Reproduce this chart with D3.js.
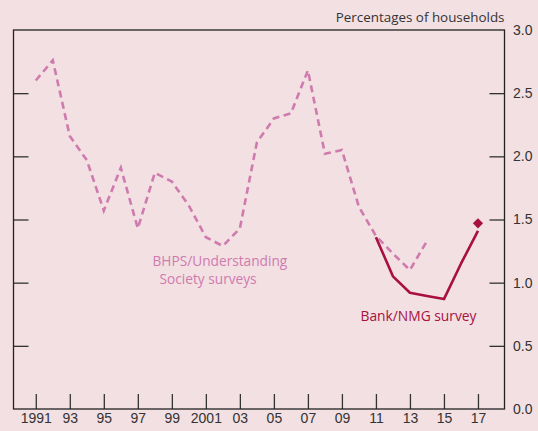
<!DOCTYPE html>
<meta charset="utf-8">
<style>
body { margin: 0; background: #f2e0e3; }
svg { display: block; font-family: "Open Sans", sans-serif; }
.frame { fill: none; stroke: #222; stroke-width: 1.3px; }
.tick line { stroke: #333; stroke-width: 1.3px; }
.tick text { fill: #333; font-size: 14px; }
.domain { display: none; }
.bhps { fill: none; stroke: #cf7bae; stroke-width: 2.6px; stroke-dasharray: 7,4.5; }
.nmg { fill: none; stroke: #a8103f; stroke-width: 2.6px; stroke-linejoin: round; }
</style>
<body>
<script src="https://d3js.org/d3.v7.min.js"></script>
<script>

// BHPS/Understanding Society (dashed)
var bhpsYears = [1991, 1992, 1993, 1994, 1995, 1996, 1997, 1998, 1999, 2000, 2001, 2002,
                 2003, 2004, 2005, 2006, 2007, 2008, 2009, 2010, 2011, 2012, 2013, 2014];
var bhpsValues = [2.60, 2.76, 2.16, 1.97, 1.57, 1.91, 1.43, 1.87, 1.80, 1.61, 1.36, 1.29,
                  1.43, 2.11, 2.30, 2.34, 2.68, 2.02, 2.05, 1.60, 1.37, 1.23, 1.10, 1.33];

// Bank/NMG survey (solid)
var nmgYears = [2011, 2012, 2013, 2014, 2015, 2016, 2017];
var nmgValues = [1.36, 1.05, 0.92, 0.895, 0.87, 1.15, 1.41];

// latest point (diamond)
var latestYear = [2017];
var latestValue = [1.47];

var xTickYears = d3.range(1991, 2018, 2);
var xTickLabels = ["1991", "93", "95", "97", "99", "2001", "03", "05", "07", "09", "11", "13", "15", "17"];
var yTickValues = [0, 0.5, 1.0, 1.5, 2.0, 2.5, 3.0];

var margin = {top: 30, right: 33.5, bottom: 22, left: 13.5},
    width = 538 - margin.left - margin.right,
    height = 431 - margin.top - margin.bottom;

var x = d3.scaleLinear().domain([1989.69, 2018.56]).range([0, width]);
var y = d3.scaleLinear().domain([0, 3]).range([height, 0]);

var svg = d3.select("body").append("svg")
    .attr("width", 538)
    .attr("height", 431)
  .append("g")
    .attr("transform", "translate(" + margin.left + "," + margin.top + ")");

// x axis, ticks pointing up
svg.append("g")
    .attr("transform", "translate(0," + height + ")")
    .call(d3.axisBottom(x).tickValues(xTickYears)
      .tickSize(-15).tickPadding(4)
      .tickFormat(function(d, i) { return xTickLabels[i]; }));

// left y ticks (no labels)
svg.append("g")
    .call(d3.axisLeft(y).tickValues(yTickValues.slice(1, -1))
      .tickSize(-15).tickFormat(""));

// right y axis with labels
var yr = svg.append("g")
    .attr("transform", "translate(" + width + ",0)")
    .call(d3.axisRight(y).tickValues(yTickValues)
      .tickSize(-15).tickPadding(8).tickFormat(d3.format(".1f")));
yr.selectAll(".tick line").filter(function(d) { return d === 0 || d === 3; }).remove();
yr.selectAll(".tick text").attr("x", 8.5);

svg.append("rect")
    .attr("class", "frame")
    .attr("width", width)
    .attr("height", height);

svg.append("text")
    .attr("x", width)
    .attr("y", -8)
    .attr("text-anchor", "end")
    .style("font-size", "13.4px")
    .style("fill", "#333")
    .text("Percentages of households");

var bhps = bhpsYears.map(function(d, i) { return [d, bhpsValues[i]]; });
var nmg = nmgYears.map(function(d, i) { return [d, nmgValues[i]]; });

var line = d3.line()
    .x(function(d) { return x(d[0]); })
    .y(function(d) { return y(d[1]); });

svg.append("path")
    .datum(bhps)
    .attr("class", "bhps")
    .attr("d", line);

svg.append("path")
    .datum(nmg)
    .attr("class", "nmg")
    .attr("d", line);

svg.selectAll(".latest")
    .data(latestYear)
  .enter().append("path")
    .attr("class", "latest")
    .attr("d", d3.symbol().type(d3.symbolSquare).size(52))
    .attr("transform", function(d, i) {
      return "translate(" + x(d) + "," + y(latestValue[i]) + ") rotate(45)";
    })
    .style("fill", "#a8103f");

// labels
var bl = svg.append("text")
    .style("font-size", "13.7px")
    .style("fill", "#d07aae");
bl.append("tspan").attr("x", 139).attr("y", 235.7).text("BHPS/Understanding");
bl.append("tspan").attr("x", 146).attr("y", 254).text("Society surveys");

svg.append("text")
    .attr("x", 347)
    .attr("y", 290.7)
    .style("font-size", "13.8px")
    .style("fill", "#a8103f")
    .text("Bank/NMG survey");

</script>
</body>
